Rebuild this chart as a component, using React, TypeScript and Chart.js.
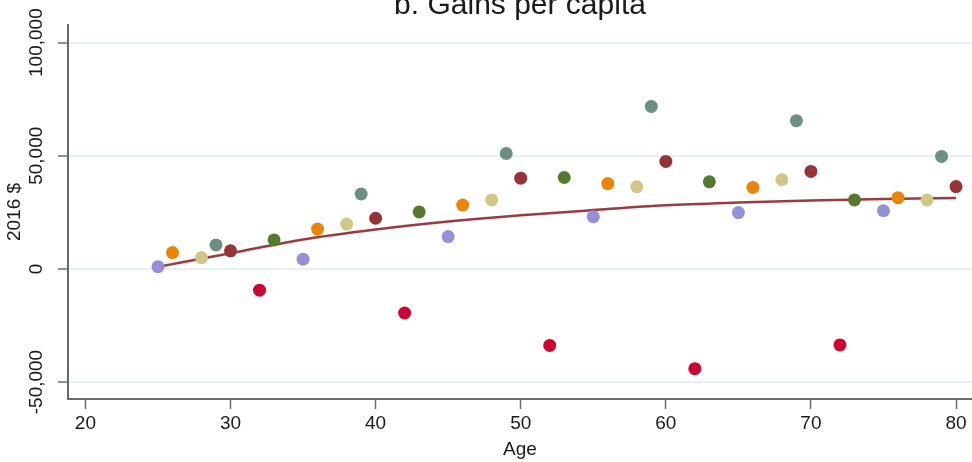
import React, { useEffect, useRef } from "react";
import { Chart, registerables } from "chart.js";

Chart.register(...registerables);

// ---- data ----
const TITLE = "b. Gains per capita";
const X_TITLE = "Age";
const Y_TITLE = "2016 $";

const X_TICKS = [20, 30, 40, 50, 60, 70, 80];
const Y_TICKS = [-50000, 0, 50000, 100000];

const LAVENDER_AGES = [25, 35, 45, 55, 65, 75];
const LAVENDER_VALUES = [1000, 4300, 14300, 23100, 24900, 25700];

const ORANGE_AGES = [26, 36, 46, 56, 66, 76];
const ORANGE_VALUES = [7200, 17600, 28200, 37700, 36000, 31500];

const KHAKI_AGES = [28, 38, 48, 58, 68, 78];
const KHAKI_VALUES = [5000, 19800, 30500, 36300, 39400, 30500];

const TEAL_AGES = [29, 39, 49, 59, 69, 79];
const TEAL_VALUES = [10600, 33100, 51000, 71800, 65500, 49700];

const MAROON_AGES = [30, 40, 50, 60, 70, 80];
const MAROON_VALUES = [8000, 22400, 40100, 47500, 43100, 36400];

const CRIMSON_AGES = [32, 42, 52, 62, 72];
const CRIMSON_VALUES = [-9400, -19500, -33800, -44100, -33600];

const GREEN_AGES = [33, 43, 53, 63, 73];
const GREEN_VALUES = [12800, 25200, 40400, 38500, 30500];

const FIT_AGES = [25, 30, 35, 40, 45, 50, 55, 60, 65, 70, 75, 80];
const FIT_VALUES = [900, 6900, 13000, 17400, 20900, 23700, 26000, 28100, 29300, 30200, 30900, 31300];

// ---- styling ----
const FONT = "'Liberation Sans', Arial, Helvetica, sans-serif";
const TEXT = "#1a1a1a";
const AXIS = "#6a6a6a";
const GRID = "#e7f0f2";

const GROUPS = [
  { label: "lavender", ages: LAVENDER_AGES, values: LAVENDER_VALUES, color: "#958fd6" },
  { label: "orange", ages: ORANGE_AGES, values: ORANGE_VALUES, color: "#e8850a" },
  { label: "khaki", ages: KHAKI_AGES, values: KHAKI_VALUES, color: "#d0c786" },
  { label: "teal", ages: TEAL_AGES, values: TEAL_VALUES, color: "#6b9080" },
  { label: "maroon", ages: MAROON_AGES, values: MAROON_VALUES, color: "#943338" },
  { label: "crimson", ages: CRIMSON_AGES, values: CRIMSON_VALUES, color: "#cc0633" },
  { label: "green", ages: GREEN_AGES, values: GREEN_VALUES, color: "#557a2b" },
];

const fmt = (v: number) => v.toLocaleString("en-US");

const textPlugin = {
  id: "customText",
  afterDraw(chart: any) {
    const { ctx, chartArea, scales } = chart;
    ctx.save();
    // title (partially clipped at top like the reference)
    ctx.fillStyle = TEXT;
    ctx.font = `30px ${FONT}`;
    ctx.textAlign = "center";
    ctx.textBaseline = "alphabetic";
    ctx.fillText(TITLE, (chartArea.left + chartArea.right) / 2, 14);
    // rotated y tick labels
    const y = scales.y;
    ctx.font = `19px ${FONT}`;
    ctx.textBaseline = "middle";
    ctx.textAlign = "center";
    for (const v of Y_TICKS) {
      const py = y.getPixelForValue(v);
      ctx.save();
      ctx.translate(37, py);
      ctx.rotate(-Math.PI / 2);
      ctx.fillText(fmt(v), 0, 0);
      ctx.restore();
    }
    ctx.restore();
  },
};

export default function App() {
  const ref = useRef<HTMLCanvasElement | null>(null);

  useEffect(() => {
    if (!ref.current) return;
    const datasets: any[] = GROUPS.map((g) => ({
      type: "scatter",
      label: g.label,
      data: g.ages.map((a, i) => ({ x: a, y: g.values[i] })),
      backgroundColor: g.color,
      borderColor: g.color,
      pointRadius: 6.5,
      pointBorderWidth: 0,
      order: 0,
    }));
    datasets.push({
      type: "line",
      label: "fit",
      data: FIT_AGES.map((a, i) => ({ x: a, y: FIT_VALUES[i] })),
      borderColor: "#9b3a40",
      borderWidth: 2.5,
      pointRadius: 0,
      cubicInterpolationMode: "monotone",
      fill: false,
      order: 1,
    });

    const chart = new Chart(ref.current, {
      type: "scatter",
      data: { datasets },
      plugins: [textPlugin],
      options: {
        animation: false,
        responsive: false,
        devicePixelRatio: 1,
        layout: { autoPadding: false, padding: { top: 25, left: 0, right: 0, bottom: 0 } },
        plugins: {
          legend: { display: false },
          title: { display: false },
          tooltip: { enabled: false },
        },
        scales: {
          x: {
            type: "linear",
            min: 18.8,
            max: 81.1,
            afterBuildTicks: (s: any) => {
              s.ticks = X_TICKS.map((v) => ({ value: v }));
            },
            afterFit: (s: any) => {
              s.height = 63;
              s.paddingLeft = 0;
              s.paddingRight = 0;
            },
            ticks: {
              autoSkip: false,
              maxRotation: 0,
              font: { family: FONT, size: 19 },
              color: TEXT,
              padding: 3,
              callback: (v: any) => String(v),
            },
            grid: {
              drawOnChartArea: false,
              tickLength: 10,
              tickColor: AXIS,
              tickWidth: 1.5,
            },
            border: { color: AXIS, width: 2 },
            title: {
              display: true,
              text: X_TITLE,
              font: { family: FONT, size: 19 },
              color: TEXT,
              padding: { top: 0, bottom: 1 },
            },
          },
          y: {
            type: "linear",
            min: -57500,
            max: 107800,
            afterBuildTicks: (s: any) => {
              s.ticks = Y_TICKS.map((v) => ({ value: v }));
            },
            afterFit: (s: any) => {
              s.width = 68;
            },
            ticks: { display: false },
            grid: {
              color: GRID,
              lineWidth: 2,
              tickLength: 10,
              tickColor: AXIS,
              tickWidth: 1.5,
            },
            border: { color: AXIS, width: 2 },
            title: {
              display: true,
              text: Y_TITLE,
              font: { family: FONT, size: 19 },
              color: TEXT,
              padding: { top: 3, bottom: 0 },
            },
          },
        },
      } as any,
    });
    return () => chart.destroy();
  }, []);

  return (
    <div style={{ position: "absolute", left: 0, top: 0, width: 972, height: 462 }}>
      <canvas ref={ref} width={972} height={462} style={{ width: 972, height: 462, display: "block" }} />
    </div>
  );
}
